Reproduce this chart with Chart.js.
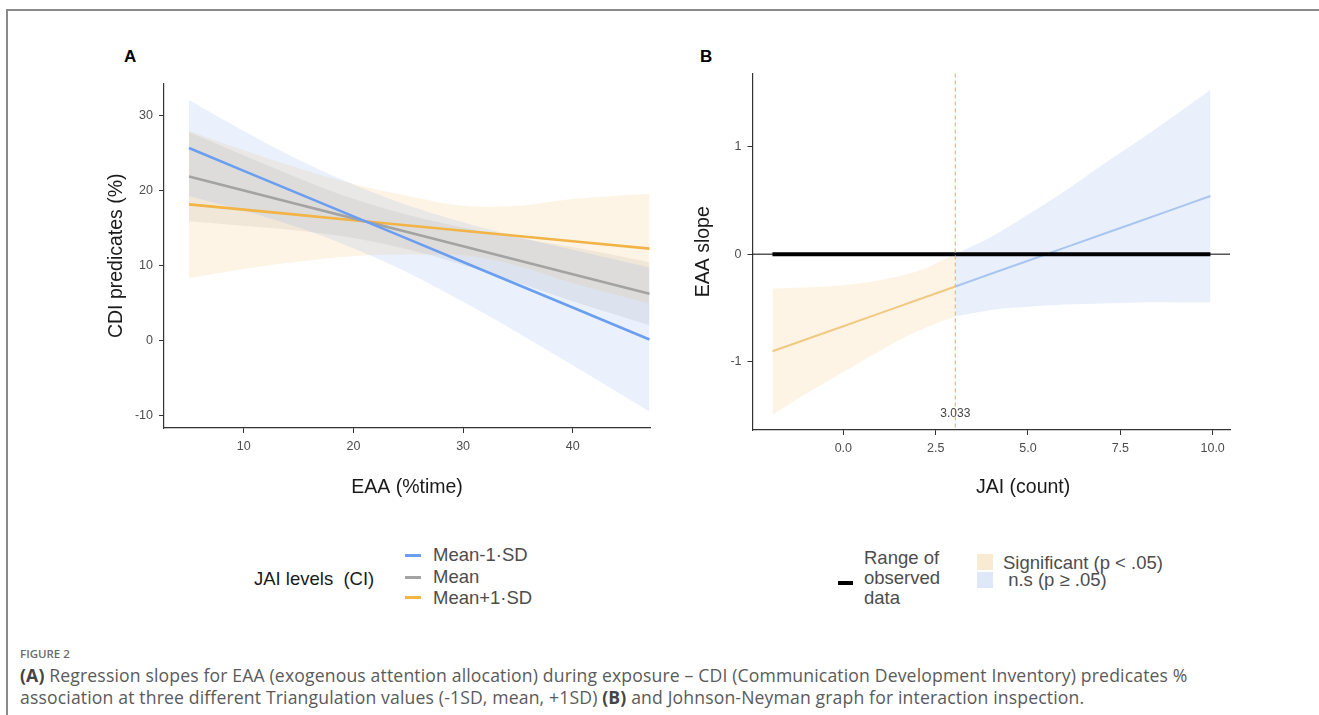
<!DOCTYPE html>
<html>
<head>
<meta charset="utf-8">
<script src="https://cdn.jsdelivr.net/npm/chart.js@4.4.1/dist/chart.umd.min.js"></script>
<style>
  body { margin: 0; width: 1319px; height: 715px; background: #fff; position: relative; overflow: hidden;
         font-family: "Liberation Sans", Arial, sans-serif; }
  #frame { position: absolute; left: 6px; top: 9px; width: 1330px; height: 720px;
           border-left: 2px solid #8a8a8a; border-top: 2px solid #8a8a8a; }
  .tag { position: absolute; font-weight: bold; font-size: 17px; color: #000; }
  canvas { position: absolute; }
  .txt { position: absolute; white-space: nowrap; font-size: 18.5px; line-height: 20px; }
  .sw { position: absolute; }
  #caption { position: absolute; left: 20px; top: 644px; color: #5a5a5a; font-family: "Open Sans", sans-serif; }
  #caption .fig { font-size: 11.5px; font-weight: 600; color: #6b6b6b; line-height: 20px; }
  #caption .body { font-size: 17.6px; line-height: 22px; letter-spacing: 0.15px; }
  #caption b { color: #444; }
</style>
</head>
<body>
<div id="frame"></div>
<div class="tag" style="left:124px;top:47px">A</div>
<div class="tag" style="left:700px;top:47px">B</div>

<canvas id="slopesChart" width="570" height="440" style="left:95px;top:70px"></canvas>
<canvas id="jnChart" width="570" height="450" style="left:680px;top:60px"></canvas>
<div class="txt" style="left:976px;top:475px;font-size:19.5px;line-height:22px;color:#1a1a1a">JAI (count)</div>

<!-- legend A -->
<div class="txt" style="left:254px;top:569px;color:#1a1a1a">JAI levels&nbsp; (CI)</div>
<div class="sw" style="left:405px;top:554px;width:16px;height:3px;background:#6b9ef0"></div>
<div class="sw" style="left:405px;top:576px;width:16px;height:3px;background:#a3a3a3"></div>
<div class="sw" style="left:405px;top:596px;width:16px;height:3px;background:#f2b447"></div>
<div class="txt" style="left:433px;top:545px;color:#4d4d4d">Mean-1·SD</div>
<div class="txt" style="left:433px;top:567px;color:#4d4d4d">Mean</div>
<div class="txt" style="left:433px;top:588px;color:#4d4d4d">Mean+1·SD</div>

<!-- legend B -->
<div class="sw" style="left:838px;top:581px;width:15px;height:4px;background:#000"></div>
<div class="txt" style="left:864px;top:548px;color:#4d4d4d">Range of<br>observed<br>data</div>
<div class="sw" style="left:977px;top:554px;width:16px;height:16px;background:#f9ead3"></div>
<div class="sw" style="left:977px;top:572px;width:16px;height:16px;background:#dfe8f8"></div>
<div class="txt" style="left:1003px;top:553px;color:#4d4d4d">Significant (p &lt; .05)</div>
<div class="txt" style="left:1003px;top:570px;color:#4d4d4d">&nbsp;n.s (p ≥ .05)</div>

<div id="caption">
  <div class="fig">FIGURE 2</div>
  <div class="body"><b>(A)</b> Regression slopes for EAA (exogenous attention allocation) during exposure – CDI (Communication Development Inventory) predicates %<br>association at three different Triangulation values (-1SD, mean, +1SD) <b>(B)</b> and Johnson-Neyman graph for interaction inspection.</div>
</div>

<script>
/* ======= Data: panel A (simple slopes) ====== */
const eaaX = [5, 10, 15, 20, 25, 30, 35, 40, 47];
const lowSD = [25.7, 22.66, 19.63, 16.6, 13.56, 10.52, 7.49, 4.45, 0.2];
const lowSDUpper = [32.1, 27.96, 24.13, 20.85, 18.06, 15.82, 13.89, 12.15, 9.8];
const lowSDLower = [19.3, 17.36, 15.13, 12.35, 9.06, 5.22, 1.09, -3.25, -9.4];
const meanLine = [21.9, 20.04, 18.19, 16.33, 14.47, 12.61, 10.76, 8.9, 6.3];
const meanUpper = [27.85, 24.74, 21.69, 18.93, 16.77, 15.11, 13.76, 12.5, 10.5];
const meanLower = [15.95, 15.34, 14.69, 13.73, 12.17, 10.11, 7.76, 5.3, 2.1];
const highSD = [18.2, 17.5, 16.8, 16.09, 15.39, 14.69, 13.98, 13.28, 12.3];
const highSDUpper = [28.0, 25.4, 23.0, 20.9, 19.3, 18.0, 18.0, 18.9, 19.6];
const highSDLower = [8.4, 9.6, 10.6, 11.3, 11.5, 11.4, 10.0, 7.7, 5.0];
const xTicksA = [10, 20, 30, 40];
const yTicksA = [-10, 0, 10, 20, 30];

/* ======= Data: panel B (Johnson-Neyman) ====== */
const jaiX = [-1.92, -1, 0, 1, 2, 3.033, 4, 5, 6, 7, 8, 9, 9.94];
const jnSlope = [-0.906, -0.794, -0.672, -0.55, -0.428, -0.301, -0.183, -0.061, 0.061, 0.183, 0.305, 0.427, 0.542];
const jnLower = [-1.5, -1.3, -1.1, -0.9, -0.72, -0.58, -0.52, -0.49, -0.47, -0.46, -0.45, -0.45, -0.45];
const jnUpper = [-0.32, -0.31, -0.29, -0.24, -0.16, 0.0, 0.16, 0.37, 0.59, 0.83, 1.06, 1.3, 1.53];
const jnCut = 3.033;
const observedRange = [-1.92, 9.94];
const xTicksB = [0, 2.5, 5, 7.5, 10];
const yTicksB = [-1, 0, 1];

const FONT = '"Liberation Sans", Arial, sans-serif';
const TITLE_FONT = { size: 19.5, family: FONT };

function pts(xs, ys) {
  return xs.map(function (x, i) { return { x: x, y: ys[i] }; });
}

function pickX(xs, ys, test) {
  return pts(xs, ys).filter(function (p) { return test(p.x); });
}

/* common ggplot-classic style axis */
function classicScale(min, max, tickValues, format, title) {
  return {
    type: 'linear',
    min: min,
    max: max,
    afterBuildTicks: function (scale) {
      scale.ticks = tickValues.map(function (v) { return { value: v }; });
    },
    grid: {
      display: true,
      drawOnChartArea: false,
      drawTicks: true,
      tickLength: 5,
      tickColor: '#333',
      tickWidth: 1,
    },
    border: { display: true, color: '#333', width: 1.2 },
    ticks: {
      color: '#4d4d4d',
      font: { size: 12.5, family: FONT },
      padding: 6,
      autoSkip: false,
      maxRotation: 0,
      callback: format,
    },
    title: title,
  };
}

function band(data, color, fillTarget) {
  return {
    data: data,
    borderWidth: 0,
    pointRadius: 0,
    tension: 0.35,
    backgroundColor: color,
    fill: fillTarget,
    order: 2,
  };
}

function line(data, color, width) {
  return {
    data: data,
    borderColor: color,
    borderWidth: width,
    pointRadius: 0,
    fill: false,
    order: 1,
  };
}

/* Panel A */
function slopesChart(selector) {
  const ctx = document.getElementById(selector);
  if (!ctx) return;
  const xScale = classicScale(2.72, 47.05, xTicksA, function (v) { return String(v); },
    { display: true, text: 'EAA (%time)', color: '#1a1a1a', font: TITLE_FONT, padding: { top: 0, bottom: 11 } });
  xScale.afterFit = function (scale) { scale.height = 82; };
  const yScale = classicScale(-11.6, 34.3, yTicksA, function (v) { return String(v); },
    { display: true, text: 'CDI predicates (%)', color: '#1a1a1a', font: TITLE_FONT, padding: { top: 10, bottom: 0 } });
  yScale.afterFit = function (scale) { scale.width = 69; };

  new Chart(ctx, {
    type: 'line',
    data: {
      datasets: [
        band(pts(eaaX, lowSDUpper), 'rgba(105,155,235,0.14)', '+1'),
        band(pts(eaaX, lowSDLower), 'transparent', false),
        band(pts(eaaX, highSDUpper), 'rgba(244,200,130,0.2)', '+1'),
        band(pts(eaaX, highSDLower), 'transparent', false),
        band(pts(eaaX, meanUpper), 'rgba(150,150,150,0.15)', '+1'),
        band(pts(eaaX, meanLower), 'transparent', false),
        line(pts(eaaX, lowSD), '#6b9ef0', 2.6),
        line(pts(eaaX, meanLine), '#a3a3a3', 2.6),
        line(pts(eaaX, highSD), '#f2b447', 2.6),
      ],
    },
    options: {
      responsive: false,
      animation: false,
      layout: { padding: { left: 0, top: 11, right: 15, bottom: 0 } },
      plugins: { legend: { display: false }, tooltip: { enabled: false } },
      scales: { x: xScale, y: yScale },
    },
  });
}

/* zero line, JN cut-off and its label */
const jnMarks = {
  id: 'jnMarks',
  afterDatasetsDraw: function (chart) {
    const ctx = chart.ctx;
    const area = chart.chartArea;
    const y0 = chart.scales.y.getPixelForValue(0);
    const xc = chart.scales.x.getPixelForValue(jnCut);
    ctx.save();
    ctx.strokeStyle = '#000';
    ctx.lineWidth = 1;
    ctx.beginPath();
    ctx.moveTo(area.left, y0);
    ctx.lineTo(area.right, y0);
    ctx.stroke();
    ctx.strokeStyle = '#f3b763';
    ctx.lineWidth = 1.2;
    ctx.setLineDash([4, 3]);
    ctx.beginPath();
    ctx.moveTo(xc, area.top);
    ctx.lineTo(xc, area.bottom);
    ctx.stroke();
    ctx.setLineDash([]);
    ctx.fillStyle = '#444';
    ctx.font = '12px ' + FONT;
    ctx.textAlign = 'center';
    ctx.textBaseline = 'middle';
    ctx.fillText(jnCut.toFixed(3), xc, area.bottom - 16);
    ctx.restore();
  },
};

/* Panel B */
function jnChart(selector) {
  const ctx = document.getElementById(selector);
  if (!ctx) return;
  const xScale = classicScale(-2.46, 10.47, xTicksB, function (v) { return v.toFixed(1); }, { display: false });
  xScale.afterFit = function (scale) { scale.height = 80; };
  const yScale = classicScale(-1.64, 1.685, yTicksB, function (v) { return String(v); },
    { display: true, text: 'EAA slope', color: '#1a1a1a', font: TITLE_FONT, padding: { top: 12, bottom: 0 } });
  yScale.afterFit = function (scale) { scale.width = 72.5; };

  const sig = function (x) { return x <= jnCut; };
  const ns = function (x) { return x >= jnCut; };

  new Chart(ctx, {
    type: 'line',
    data: {
      datasets: [
        band(pickX(jaiX, jnUpper, sig), 'rgba(244,200,130,0.2)', '+1'),
        band(pickX(jaiX, jnLower, sig), 'transparent', false),
        band(pickX(jaiX, jnUpper, ns), 'rgba(110,155,230,0.15)', '+1'),
        band(pickX(jaiX, jnLower, ns), 'transparent', false),
        line([{ x: observedRange[0], y: 0 }, { x: observedRange[1], y: 0 }], '#000', 4),
        line(pickX(jaiX, jnSlope, sig), '#f2c983', 2),
        line(pickX(jaiX, jnSlope, ns), '#a9c5f2', 2),
      ],
    },
    options: {
      responsive: false,
      animation: false,
      layout: { padding: { left: 0, top: 12, right: 20, bottom: 0 } },
      plugins: { legend: { display: false }, tooltip: { enabled: false } },
      scales: { x: xScale, y: yScale },
    },
    plugins: [jnMarks],
  });
}

slopesChart('slopesChart');
jnChart('jnChart');
</script>
</body>
</html>
